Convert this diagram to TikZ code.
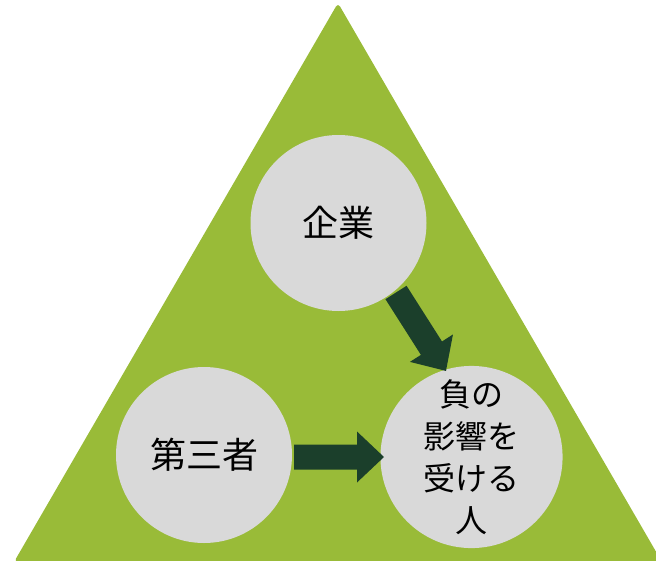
\documentclass[tikz,border=0pt]{standalone}
\usepackage{fontspec}
\newfontfamily\jpfont{Noto Sans CJK JP}
\definecolor{trigreen}{HTML}{99BB38}
\definecolor{arrowgreen}{HTML}{1B3F2B}
\definecolor{circgray}{HTML}{D9D9D9}
\tikzset{
  bubble/.style={circle, fill=circgray, minimum size=176pt, inner sep=0pt, align=center, text=black},
  blockarrow/.style={fill=arrowgreen}
}
\begin{document}
\begin{tikzpicture}[x=1pt,y=-1pt]
\useasboundingbox (0,0) rectangle (656,560);
\clip (0,0) rectangle (656,560);
\fill[trigreen, rounded corners=4pt] (338,3) -- (662,562) -- (14,562) -- cycle;
\node[bubble, font=\jpfont\fontsize{36pt}{42pt}\selectfont] (kigyo) at (338.5,223) {企業};
\node[bubble, font=\jpfont\fontsize{36pt}{42pt}\selectfont] (daisan) at (204,455) {第三者};
\node[bubble, font=\jpfont\fontsize{32pt}{42pt}\selectfont] (hito) at (471.5,457) {負の\\影響を\\受ける\\人};
\begin{scope}[shift={(396,292.5)}, rotate=-57.5]
\fill[blockarrow] (0,-12.5) -- (66,-12.5) -- (66,-25.5) -- (93,0) -- (66,25.5) -- (66,12.5) -- (0,12.5) -- cycle;
\end{scope}
\begin{scope}[shift={(294,457)}]
\fill[blockarrow] (0,-12.5) -- (63,-12.5) -- (63,-25.5) -- (90,0) -- (63,25.5) -- (63,12.5) -- (0,12.5) -- cycle;
\end{scope}
\end{tikzpicture}
\end{document}
